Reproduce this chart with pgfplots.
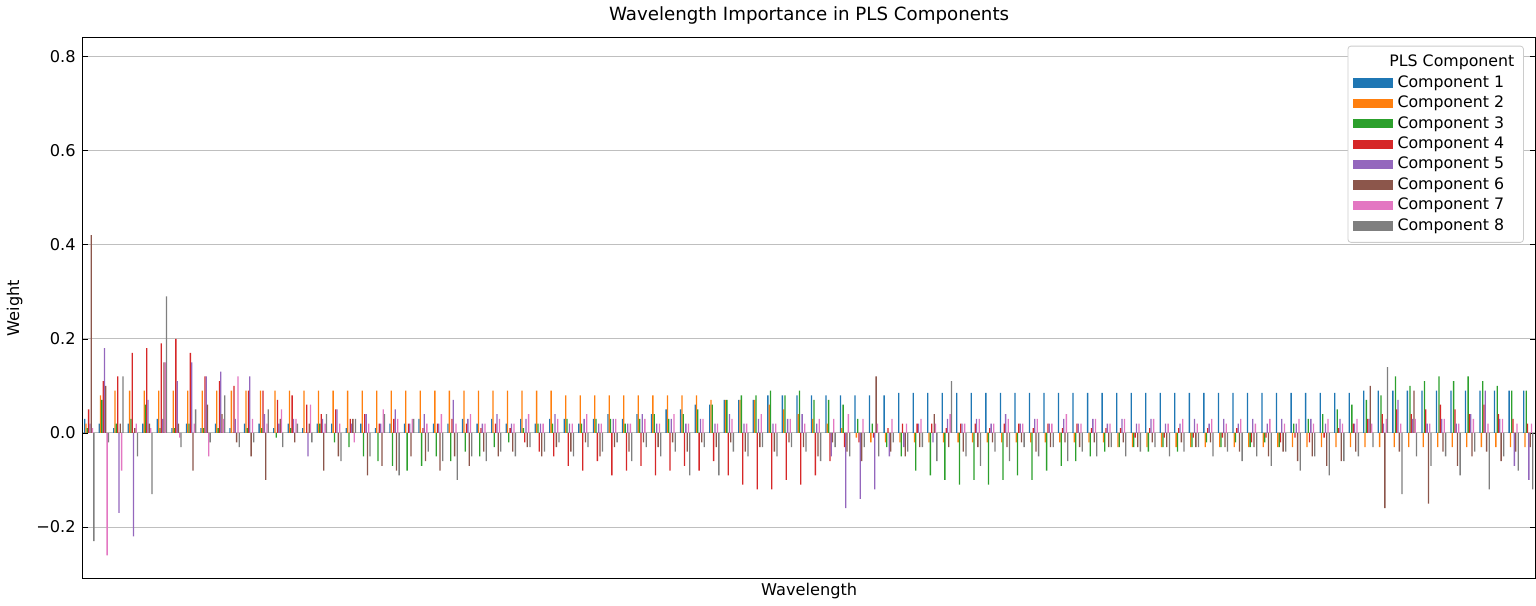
\documentclass[border=0pt]{standalone}
\usepackage{pgfplots}
\usepackage{pgfplotstable}
\pgfplotsset{compat=1.18}
\usepackage{fontspec}
\setmainfont{DejaVu Sans}
\definecolor{t1}{HTML}{1F77B4}\definecolor{t2}{HTML}{FF7F0E}\definecolor{t3}{HTML}{2CA02C}\definecolor{t4}{HTML}{D62728}
\definecolor{t5}{HTML}{9467BD}\definecolor{t6}{HTML}{8C564B}\definecolor{t7}{HTML}{E377C2}\definecolor{t8}{HTML}{7F7F7F}
\pgfplotstableread{
c1 c2 c3 c4 c5 c6 c7 c8
0.03 0.02 0.01 0.05 0.02 0.42 0.01 -0.23
0.02 0.08 0.07 0.11 0.18 0.10 -0.26 -0.02
0.01 0.09 0.02 0.12 -0.17 0.02 -0.08 0.12
0.02 0.09 0.03 0.17 -0.22 0.01 0.02 -0.05
0.02 0.09 0.06 0.18 0.07 0.02 0.01 -0.13
0.03 0.09 0.01 0.19 0.03 0.15 0.15 0.29
0.01 0.09 0.01 0.20 0.11 0.02 -0.01 -0.03
0.02 0.09 0.02 0.17 0.15 -0.08 0.02 0.05
0.01 0.09 0.01 0.12 0.12 0.06 -0.05 -0.02
0.02 0.09 0.01 0.11 0.13 0.04 0.03 0.08
0.01 0.09 0.00 0.10 0.03 -0.02 0.12 -0.03
0.02 0.09 0.01 0.09 0.12 -0.05 0.03 -0.02
0.02 0.09 0.01 0.09 0.04 -0.10 0.02 0.05
0.01 0.09 -0.01 0.07 0.02 0.03 0.05 -0.03
0.02 0.09 0.01 0.08 0.03 -0.02 0.03 0.02
0.01 0.09 0.00 0.06 -0.05 0.02 0.06 -0.02
0.02 0.09 0.02 0.04 0.03 -0.08 0.02 0.04
0.02 0.09 -0.02 0.05 0.05 -0.05 0.02 -0.06
0.01 0.09 -0.03 0.03 0.02 0.03 -0.02 0.03
0.02 0.09 -0.05 0.04 0.04 -0.09 0.02 -0.05
0.01 0.09 -0.06 0.02 0.02 -0.07 0.05 0.04
0.02 0.09 -0.07 0.03 0.05 -0.08 0.03 -0.09
0.02 0.09 -0.08 0.02 0.02 -0.05 0.03 0.03
0.03 0.09 -0.07 0.01 0.04 -0.06 0.02 -0.04
0.02 0.09 -0.05 0.02 0.02 -0.08 0.04 -0.06
0.02 0.09 -0.06 0.03 0.07 -0.05 0.02 -0.10
0.03 0.09 -0.04 0.02 0.03 -0.07 0.04 -0.05
0.02 0.09 -0.05 0.01 0.02 -0.04 0.02 -0.06
0.03 0.09 -0.03 0.02 0.04 -0.05 0.03 -0.04
0.02 0.09 -0.02 0.01 0.02 -0.04 0.02 -0.05
0.03 0.09 0.01 -0.02 0.03 -0.03 0.04 -0.03
0.02 0.09 0.02 -0.04 0.02 -0.05 0.02 -0.04
0.03 0.09 0.02 -0.05 0.04 -0.03 0.03 -0.02
0.03 0.08 0.03 -0.07 0.02 -0.04 0.02 -0.05
0.02 0.08 0.02 -0.08 0.03 -0.02 0.04 -0.03
0.03 0.08 0.03 -0.06 0.02 -0.05 0.02 -0.04
0.04 0.08 0.03 -0.09 0.03 -0.03 0.03 -0.02
0.03 0.08 0.02 -0.08 0.02 -0.04 0.02 -0.06
0.04 0.08 0.03 -0.07 0.04 -0.02 0.03 -0.03
0.04 0.08 0.04 -0.09 0.02 -0.03 0.02 -0.05
0.05 0.08 0.03 -0.08 0.03 -0.02 0.04 -0.04
0.05 0.08 0.04 -0.07 0.02 -0.04 0.02 -0.09
0.06 0.08 0.05 -0.08 0.03 -0.02 0.03 -0.03
0.06 0.07 0.06 -0.06 0.02 -0.03 0.02 -0.09
0.07 0.07 0.07 -0.09 0.04 -0.02 0.03 -0.04
0.07 0.07 0.08 -0.11 0.02 -0.04 0.02 -0.05
0.07 0.07 0.08 -0.12 0.03 -0.03 0.04 -0.03
0.08 0.06 0.09 -0.12 0.02 -0.04 0.02 -0.05
0.08 0.05 0.08 -0.10 0.03 -0.02 0.03 -0.03
0.08 0.04 0.09 -0.11 0.04 -0.03 0.02 -0.04
0.08 0.03 0.07 -0.09 0.02 -0.05 0.03 -0.06
0.08 0.02 0.07 -0.06 -0.05 -0.02 0.03 -0.03
0.08 0.01 0.06 -0.03 -0.16 -0.04 0.04 -0.05
0.08 -0.01 0.03 -0.02 -0.14 -0.06 0.03 -0.03
0.08 -0.02 0.02 -0.01 -0.12 0.12 0.02 -0.05
0.08 -0.02 -0.03 0.01 -0.05 -0.04 0.03 -0.02
0.085 -0.02 -0.05 0.02 -0.03 -0.05 0.02 -0.04
0.085 -0.02 -0.08 0.02 0.02 -0.03 0.03 -0.03
0.085 -0.02 -0.09 0.02 -0.02 0.04 0.02 -0.06
0.085 -0.02 -0.10 0.01 0.03 -0.03 0.04 0.11
0.085 -0.02 -0.11 0.02 0.02 -0.04 0.02 -0.05
0.085 -0.02 -0.10 0.02 0.03 -0.03 0.03 -0.07
0.085 -0.02 -0.11 0.01 0.02 -0.02 0.02 -0.04
0.085 -0.02 -0.10 0.02 0.04 -0.03 0.03 -0.06
0.085 -0.02 -0.09 0.02 0.02 -0.02 0.02 -0.03
0.085 -0.02 -0.10 0.01 0.03 -0.04 0.03 -0.05
0.085 -0.02 -0.08 0.02 0.02 -0.03 0.02 -0.03
0.085 -0.02 -0.07 0.01 0.03 -0.02 0.04 -0.06
0.085 -0.02 -0.06 0.02 0.02 -0.03 0.02 -0.04
0.085 -0.02 -0.05 0.01 0.03 -0.02 0.03 -0.05
0.085 -0.02 -0.04 0.01 0.02 -0.03 0.02 -0.03
0.085 -0.03 -0.03 0.01 0.03 -0.02 0.03 -0.05
0.085 -0.03 -0.03 -0.01 0.02 -0.03 0.02 -0.04
0.085 -0.03 -0.04 0.01 0.03 -0.02 0.03 -0.03
0.085 -0.03 -0.03 -0.01 0.02 -0.03 0.02 -0.05
0.085 -0.03 -0.04 0.01 0.02 -0.02 0.03 -0.04
0.085 -0.03 -0.03 -0.01 0.03 -0.03 0.02 -0.03
0.085 -0.03 -0.02 0.01 0.02 -0.02 0.03 -0.05
0.085 -0.03 -0.03 -0.01 0.03 -0.03 0.02 -0.04
0.085 -0.03 -0.02 0.01 0.02 -0.04 0.03 -0.06
0.085 -0.03 -0.03 -0.02 0.03 -0.03 0.02 -0.05
0.085 -0.03 -0.02 -0.01 0.02 -0.05 0.03 -0.07
0.085 -0.03 -0.03 -0.02 0.03 -0.04 0.02 -0.04
0.085 -0.03 0.02 -0.01 0.02 -0.06 0.03 -0.08
0.085 -0.03 0.03 -0.02 0.03 -0.05 0.02 -0.05
0.085 -0.03 0.04 -0.01 0.02 -0.07 0.03 -0.09
0.085 -0.03 0.05 0.01 0.03 -0.06 0.02 -0.06
0.085 -0.03 0.06 0.02 0.02 -0.04 0.03 -0.05
0.09 -0.03 0.07 0.03 0.03 0.10 0.02 -0.03
0.09 -0.03 0.08 0.04 0.02 -0.16 0.03 0.14
0.09 -0.03 0.12 0.05 0.07 -0.04 0.02 -0.13
0.09 -0.03 0.10 0.04 0.03 0.09 0.03 -0.05
0.09 -0.03 0.11 0.05 0.02 -0.15 0.02 -0.07
0.09 -0.03 0.12 0.06 0.03 -0.04 0.03 -0.05
0.09 -0.03 0.11 0.05 0.02 -0.07 0.02 -0.09
0.09 -0.03 0.12 0.04 0.04 -0.05 0.03 -0.04
0.09 -0.03 0.11 0.06 0.09 -0.04 0.02 -0.12
0.09 -0.03 0.10 0.04 0.03 -0.06 0.03 -0.05
0.09 -0.03 0.09 0.03 -0.07 -0.04 0.02 -0.08
0.09 -0.03 0.09 0.02 -0.10 -0.03 0.02 -0.12
}\data
\begin{document}
\begin{tikzpicture}
\begin{axis}[
  scale only axis, width=718pt, height=267.5pt,
  xmin=-0.45, xmax=99.5, ymin=-0.31, ymax=0.84,
  xtick=\empty, ytick={-0.2,0,0.2,0.4,0.6,0.8},
  yticklabels={−0.2,0.0,0.2,0.4,0.6,0.8},
  ymajorgrids, grid style={gray!50, line width=0.5pt},
  ytick style={black}, major tick length=2.5pt,
  tick label style={font=\fontsize{8}{9.5}\selectfont},
  label style={font=\fontsize{8}{9.5}\selectfont},
  title style={font=\fontsize{9}{11}\selectfont, yshift=-3pt},
  title={Wavelength Importance in PLS Components},
  xlabel={Wavelength}, ylabel={Weight},
  xlabel style={yshift=4pt},
  ybar, bar width=0.09,
  legend style={at={(0.992,0.985)}, anchor=north east, font=\fontsize{7.8}{9.5}\selectfont, draw=gray!40, rounded corners=1.5pt, row sep=-1.2pt, inner sep=2.5pt},
  legend cell align=left,
  legend image code/.code={\fill[#1, sharp corners] (0pt,-2.3pt) rectangle (20pt,2.3pt);},
]
\addlegendimage{empty legend}\addlegendentry{\hspace{-4pt}PLS Component}
\addplot[fill=t1, draw=none, bar shift=-0.315] table[x expr=\coordindex, y=c1]{\data};\addlegendentry{Component 1}
\addplot[fill=t2, draw=none, bar shift=-0.225] table[x expr=\coordindex, y=c2]{\data};\addlegendentry{Component 2}
\addplot[fill=t3, draw=none, bar shift=-0.135] table[x expr=\coordindex, y=c3]{\data};\addlegendentry{Component 3}
\addplot[fill=t4, draw=none, bar shift=-0.045] table[x expr=\coordindex, y=c4]{\data};\addlegendentry{Component 4}
\addplot[fill=t5, draw=none, bar shift=0.045] table[x expr=\coordindex, y=c5]{\data};\addlegendentry{Component 5}
\addplot[fill=t6, draw=none, bar shift=0.135] table[x expr=\coordindex, y=c6]{\data};\addlegendentry{Component 6}
\addplot[fill=t7, draw=none, bar shift=0.225] table[x expr=\coordindex, y=c7]{\data};\addlegendentry{Component 7}
\addplot[fill=t8, draw=none, bar shift=0.315] table[x expr=\coordindex, y=c8]{\data};\addlegendentry{Component 8}
\end{axis}
\end{tikzpicture}
\end{document}
